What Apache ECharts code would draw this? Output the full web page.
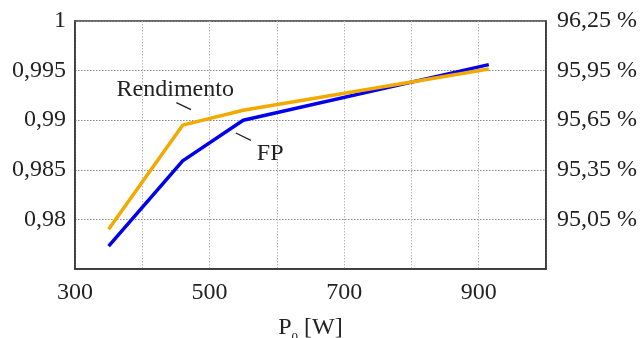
<!DOCTYPE html>
<html>
<head>
<meta charset="utf-8">
<script src="https://cdn.jsdelivr.net/npm/echarts@6/dist/echarts.min.js"></script>
<style>
  html, body { margin: 0; padding: 0; background: #fff; }
  #chart { width: 644px; height: 338px; }
</style>
</head>
<body>
<div id="chart"></div>
<script>
// data
const powers = [350, 460, 550, 915];
const fpValues = [0.9773, 0.9859, 0.9900, 0.9956];
const rendValues = [94.99, 95.62, 95.71, 95.96];   // %
const xLabels = [300, 500, 700, 900];

// annotation anchors (data units)
const rendText = [449, 95.835];
const rendLeader = [[450.6, 95.756], [472.4, 95.714]];
const fpText = [590, 0.9866];
const fpLeader = [[539, 0.98871], [561.5, 0.98797]];

const font = 'Liberation Serif';
const txt = '#222';

const chart = echarts.init(document.getElementById('chart'));

function textMark(pos, name) {
    return {
        symbol: 'circle',
        symbolSize: 1,
        itemStyle: { color: 'rgba(0,0,0,0)' },
        silent: true,
        label: {
            show: true, position: 'inside', formatter: name,
            color: txt, fontFamily: font, fontSize: 24
        },
        data: [{ coord: pos }]
    };
}

function leader(seg) {
    return {
        symbol: ['none', 'none'],
        silent: true,
        lineStyle: { color: '#222', width: 1.3, type: 'solid' },
        label: { show: false },
        data: [[{ coord: seg[0] }, { coord: seg[1] }]]
    };
}

chart.setOption({
    animation: false,
    grid: {
        left: 75, right: 98, top: 21, bottom: 69,
        outerBoundsMode: 'none',
        containLabel: false,
        show: true, borderColor: '#333', borderWidth: 1.5
    },
    xAxis: {
        type: 'value',
        min: 300, max: 1000, interval: 100,
        name: '{p|P}{s|0}{p| [W]}',
        nameLocation: 'middle',
        nameGap: 47,
        nameTextStyle: {
            rich: {
                p: { fontFamily: font, fontSize: 24, color: txt },
                s: { fontFamily: font, fontSize: 13, color: txt, verticalAlign: 'bottom', padding: [0, 0, -4, 0] }
            }
        },
        axisLine: { lineStyle: { color: '#333', width: 1.5 } },
        axisTick: { show: false },
        splitLine: { lineStyle: { color: '#b8b8b8', type: [1.5, 1.5], width: 1 } },
        axisLabel: {
            margin: 12,
            color: txt, fontFamily: font, fontSize: 24,
            formatter: v => xLabels.includes(v) ? String(v) : ''
        }
    },
    yAxis: [{
        type: 'value',
        min: 0.975, max: 1, interval: 0.005,
        axisLine: { show: true, lineStyle: { color: '#333', width: 1.5 } },
        axisTick: { show: false },
        splitLine: { lineStyle: { color: '#888', type: [1.5, 1.5], width: 1 } },
        axisLabel: {
            margin: 9,
            color: txt, fontFamily: font, fontSize: 24,
            formatter: v => Math.abs(v - 0.975) < 1e-9 ? '' : String(+v.toFixed(3)).replace('.', ',')
        }
    }, {
        type: 'value',
        min: 94.75, max: 96.25, interval: 0.3,
        position: 'right',
        axisLine: { show: true, lineStyle: { color: '#333', width: 1.5 } },
        axisTick: { show: false },
        splitLine: { show: false },
        axisLabel: {
            margin: 11,
            color: txt, fontFamily: font, fontSize: 24,
            formatter: v => Math.abs(v - 94.75) < 1e-9 ? '' : v.toFixed(2).replace('.', ',') + ' %'
        }
    }],
    series: [{
        name: 'FP',
        type: 'line',
        yAxisIndex: 0,
        data: powers.map((p, i) => [p, fpValues[i]]),
        showSymbol: false,
        lineStyle: { color: '#0000EE', width: 3.5 },
        markLine: leader(fpLeader),
        markPoint: textMark(fpText, 'FP')
    }, {
        name: 'Rendimento',
        type: 'line',
        yAxisIndex: 1,
        data: powers.map((p, i) => [p, rendValues[i]]),
        showSymbol: false,
        lineStyle: { color: '#F2A900', width: 3.5 },
        markLine: leader(rendLeader),
        markPoint: textMark(rendText, 'Rendimento')
    }]
});
</script>
</body>
</html>
